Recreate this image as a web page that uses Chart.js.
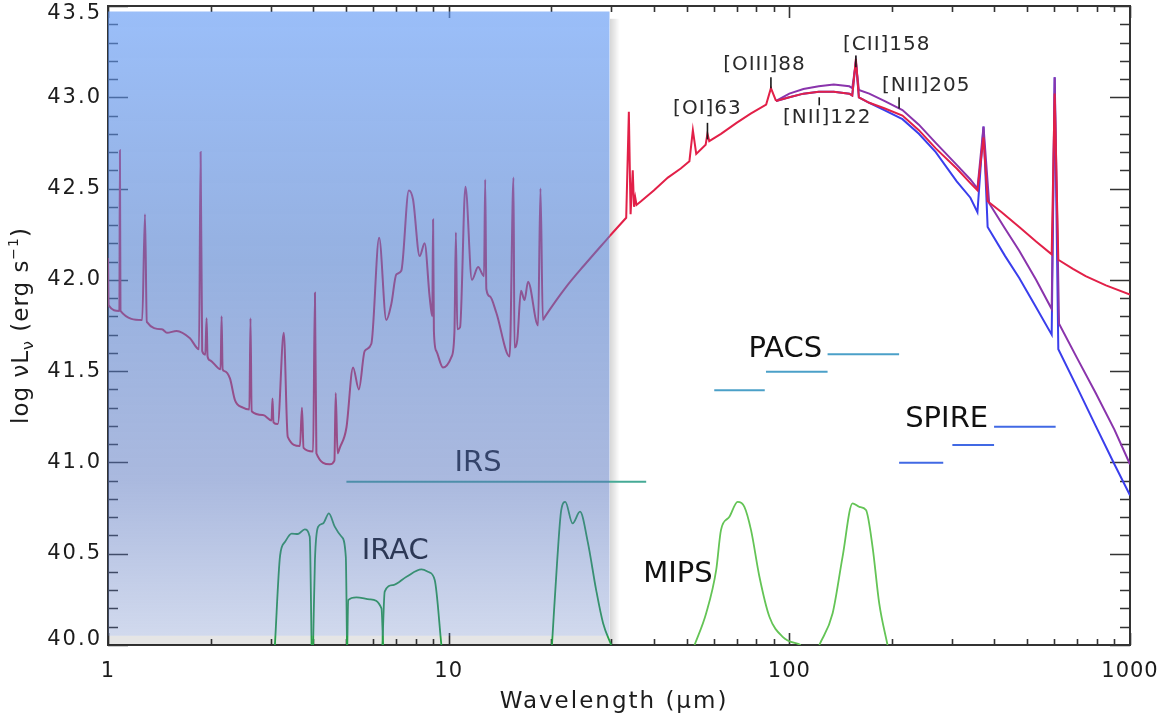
<!DOCTYPE html>
<html lang="en">
<head>
<meta charset="UTF-8" />
<title>Model SED with Spitzer and Herschel bands</title>
<style>
  body { margin: 0; background: #fff; }
  #wrap { width: 1160px; height: 719px; position: relative; }
</style>
</head>
<body>
<div id="wrap"><canvas id="sed"></canvas></div>

<script src="https://cdn.jsdelivr.net/npm/chart.js"></script>
<script>
// wavelength in micron, log nuL_nu in erg/s
// 1-30 micron part, common to the three models
const sedMidIR = [
  [1.00, 42.12], [1.004, 41.86], [1.08, 41.83], [1.084, 42.71], [1.088, 41.83],
  [1.26, 41.78], [1.284, 42.36], [1.30, 41.77],
  [1.44, 41.73], [1.49, 41.71], [1.59, 41.72], [1.74, 41.68],
  [1.85, 41.62], [1.87, 42.70], [1.89, 41.61],
  [1.93, 41.59], [1.947, 41.79], [1.96, 41.58], [1.99, 41.56],
  [2.14, 41.51], [2.155, 41.80], [2.17, 41.51], [2.20, 41.50],
  [2.28, 41.46], [2.36, 41.34], [2.49, 41.30],
  [2.60, 41.29], [2.62, 41.79], [2.64, 41.28], [2.85, 41.26],
  [3.02, 41.23], [3.04, 41.35], [3.06, 41.22],
  [3.15, 41.21], [3.28, 41.71], [3.37, 41.14],
  [3.66, 41.09], [3.71, 41.30], [3.75, 41.08],
  [4.00, 41.06], [4.05, 41.93], [4.09, 41.05],
  [4.48, 40.99], [4.62, 41.01], [4.66, 41.38], [4.72, 41.05],
  [4.79, 41.08], [5.01, 41.19], [5.24, 41.52], [5.45, 41.40], [5.67, 41.61], [5.93, 41.65],
  [6.25, 42.23], [6.56, 41.78], [6.79, 41.87], [7.02, 42.03], [7.26, 42.05],
  [7.64, 42.49], [7.86, 42.44], [8.22, 42.13], [8.50, 42.20], [8.79, 41.91],
  [8.95, 41.80], [9.00, 42.33], [9.05, 41.72], [9.20, 41.61], [9.62, 41.52],
  [10.2, 41.58], [10.4, 41.72], [10.5, 42.26], [10.6, 41.73], [10.8, 41.74],
  [11.2, 42.51], [11.7, 42.00], [12.2, 42.07], [12.7, 42.02], [12.8, 42.55], [12.9, 41.95],
  [13.2, 41.91], [13.8, 41.82], [15.1, 41.58], [15.5, 42.56], [15.6, 41.63], [15.9, 41.67],
  [16.3, 41.94], [16.7, 41.89], [17.1, 41.99], [18.3, 41.75], [18.6, 42.50], [18.9, 41.78],
  [19.2, 41.80], [22.1, 41.96], [25.0, 42.08], [29.7, 42.24]
];

// 30-90 micron rise with the fine-structure lines, also common
const sedRise = [
  [29.7, 42.24], [33.2, 42.34], [33.8, 42.92], [34.2, 42.36], [34.7, 42.60], [35.0, 42.40],
  [35.3, 42.45], [35.6, 42.41], [36.7, 42.43], [40.0, 42.49], [44.0, 42.56], [48.0, 42.61],
  [50.9, 42.65], [52.1, 42.82], [53.3, 42.69], [56.8, 42.74], [57.5, 42.80], [58.2, 42.76],
  [63.0, 42.80], [70.0, 42.86], [77.0, 42.91], [85.5, 42.96], [88.3, 43.05], [91.4, 42.98]
];

// far-IR tails of the three models
const redFar = [
  [91.4, 42.98], [100, 43.00], [110, 43.02], [122, 43.03], [135, 43.03], [150, 43.02],
  [153, 43.01], [156.8, 43.21], [160, 43.00], [171.6, 42.97], [190, 42.94], [214.8, 42.90],
  [240, 42.82], [269, 42.72], [310, 42.61], [340, 42.53], [356.6, 42.49], [371.5, 42.78],
  [382, 42.43], [420, 42.37], [473, 42.29], [530, 42.21], [589, 42.14], [601, 43.02],
  [616, 42.11], [680, 42.06], [741, 42.02], [850, 41.97], [1000, 41.92]
];
const purpleFar = [
  [91.4, 42.98], [100, 43.02], [110, 43.045], [122, 43.06], [135, 43.07], [150, 43.06],
  [153, 43.05], [156.8, 43.19], [160, 43.04], [171.6, 43.02], [190, 42.98], [214.8, 42.93],
  [240, 42.85], [269, 42.75], [310, 42.63], [340, 42.55], [356.6, 42.50], [371.5, 42.84],
  [386, 42.42], [430, 42.28], [473, 42.16], [530, 42.00], [589, 41.84], [601, 43.11],
  [619, 41.76], [700, 41.57], [793, 41.38], [900, 41.18], [1000, 40.99]
];
const blueFar = [
  [91.4, 42.98], [100, 43.00], [110, 43.02], [122, 43.03], [135, 43.03], [150, 43.02],
  [153, 43.01], [156.8, 43.20], [160, 43.00], [171.6, 42.97], [190, 42.93], [214.8, 42.88],
  [240, 42.80], [269, 42.70], [310, 42.54], [340, 42.45], [356.6, 42.37], [371.5, 42.84],
  [382, 42.29], [430, 42.13], [473, 42.01], [530, 41.85], [589, 41.70], [601, 43.11],
  [616, 41.62], [700, 41.41], [793, 41.20], [900, 40.99], [1000, 40.82]
];

// filter transmission curves, drawn on the luminosity axis
const irac1 = [[3.09, 40.0], [3.20, 40.49], [3.31, 40.565], [3.46, 40.61], [3.61, 40.608], [3.78, 40.633], [3.91, 40.593], [3.96, 40.0]];
const irac2 = [[4.00, 40.0], [4.05, 40.465], [4.14, 40.648], [4.28, 40.666], [4.45, 40.721], [4.63, 40.648], [4.85, 40.593], [4.99, 40.483], [5.03, 40.0]];
const irac3 = [[5.04, 40.0], [5.07, 40.246], [5.36, 40.261], [5.87, 40.25], [6.35, 40.201], [6.42, 40.0]];
const irac4 = [[6.39, 40.0], [6.49, 40.292], [6.87, 40.328], [7.52, 40.374], [8.32, 40.414], [8.70, 40.401], [9.10, 40.356], [9.52, 40.0]];
const mips24 = [[20.1, 40.0], [20.8, 40.447], [21.4, 40.739], [22.0, 40.784], [23.1, 40.666], [24.3, 40.73], [25.6, 40.565], [27.1, 40.301], [28.4, 40.119], [30.0, 40.0]];
const mips70 = [[52.7, 40.0], [57.0, 40.174], [61.0, 40.411], [63.0, 40.629], [66.7, 40.702], [70.5, 40.784], [73.8, 40.757], [77.2, 40.629], [81.7, 40.374], [87.4, 40.155], [95.6, 40.045], [108, 40.0]];
const mips160 = [[122.5, 40.0], [134, 40.174], [143.3, 40.483], [153.3, 40.776], [160.4, 40.757], [167.9, 40.739], [175.5, 40.538], [183.6, 40.228], [194.2, 40.0]];

// instrument coverage: [from, to, level]
const irsBand = [5.01, 38.0, 40.894];
const pacsBands = [[60.2, 84.7, 41.396], [85.4, 129.5, 41.496], [129.5, 210, 41.593]];
const spireBands = [[210, 283, 40.998], [301, 399, 41.095], [399, 605, 41.195]];

// shaded mid-IR box
const midIrBox = { from: 1.0, to: 29.7, top: 43.47, bottom: 40.05 };

// line markers: [wavelength, tick bottom, tick top]
const lineTicks = [[57.5, 42.77, 42.86], [88.3, 43.05, 43.11], [122.4, 42.956, 43.0], [156.8, 43.165, 43.229], [210, 42.938, 43.0]];
const lineNames = [['[OI]63', 57.5, 42.938], ['[OIII]88', 84.5, 43.179], ['[NII]122', 129.2, 42.885], ['[CII]158', 193.2, 43.29], ['[NII]205', 252.2, 43.065]];
const instrumentNames = [['IRS', 12.2, 40.993], ['IRAC', 6.97, 40.515], ['MIPS', 47.1, 40.389], ['PACS', 97.3, 41.62], ['SPIRE', 289.6, 41.237]];

const yTickLabels = ['40.0', '40.5', '41.0', '41.5', '42.0', '42.5', '43.0', '43.5'];
const xTickLabels = ['1', '10', '100', '1000'];

const toXY = pairs => pairs.map(([x, y]) => ({ x, y }));

function boxGradient(context) {
  const { ctx, chartArea, scales } = context.chart;
  if (!chartArea) return 'rgba(85,125,205,0.55)';
  const top = scales.y.getPixelForValue(midIrBox.top);
  const bottom = scales.y.getPixelForValue(midIrBox.bottom);
  const g = ctx.createLinearGradient(0, top, 0, bottom);
  g.addColorStop(0, 'rgba(95,152,245,0.63)');
  g.addColorStop(0.4, 'rgba(80,125,205,0.6)');
  g.addColorStop(0.75, 'rgba(85,115,190,0.5)');
  g.addColorStop(1, 'rgba(85,115,190,0.27)');
  return g;
}

function edgeShadow(context) {
  const { ctx, chartArea, scales } = context.chart;
  if (!chartArea) return 'rgba(0,0,0,0.1)';
  const x0 = scales.x.getPixelForValue(29.7);
  const x1 = scales.x.getPixelForValue(31.8);
  const g = ctx.createLinearGradient(x0, 0, x1, 0);
  g.addColorStop(0, 'rgba(0,0,0,0.16)');
  g.addColorStop(1, 'rgba(0,0,0,0)');
  return g;
}

const line = (data, color, width, order, extra) => Object.assign({
  data: toXY(data), showLine: true, borderColor: color, borderWidth: width,
  pointRadius: 0, fill: false, tension: 0, order
}, extra || {});

const smooth = { cubicInterpolationMode: 'monotone' };
const RED = 'rgb(226,32,72)';

const datasets = [
  // shaded box, drawn over everything else
  line([[midIrBox.from, midIrBox.top], [midIrBox.to, midIrBox.top]], 'transparent', 0, 0,
       { fill: { value: midIrBox.bottom }, backgroundColor: boxGradient }),
  line([[29.7, 43.43], [31.8, 43.43]], 'transparent', 0, 9,
       { fill: { value: 40.0 }, backgroundColor: edgeShadow }),
  line([[1.0, 40.05], [29.7, 40.05]], 'transparent', 0, 9,
       { fill: { value: 40.0 }, backgroundColor: 'rgba(0,0,0,0.1)' }),

  line(sedMidIR, RED, 2, 2, smooth),
  line(sedRise, RED, 2, 2),
  line(redFar, RED, 2, 2),
  line(purpleFar, 'rgb(138,52,172)', 2, 3),
  line(blueFar, 'rgb(58,62,236)', 2, 4),

  line([[irsBand[0], irsBand[2]], [irsBand[1], irsBand[2]]], 'rgb(70,170,150)', 2, 5)
];

lineTicks.forEach(([lam, lo, hi]) => datasets.push(line([[lam, lo], [lam, hi]], '#1a1a1a', 1.6, 1)));
pacsBands.forEach(([a, b, v]) => datasets.push(line([[a, v], [b, v]], 'rgb(75,160,200)', 2, 5)));
spireBands.forEach(([a, b, v]) => datasets.push(line([[a, v], [b, v]], 'rgb(65,105,228)', 2, 5)));
[irac1, irac2, irac3, irac4, mips24].forEach(f =>
  datasets.push(line(f, 'rgb(40,160,72)', 1.8, 6, smooth)));
[mips70, mips160].forEach(f =>
  datasets.push(line(f, 'rgb(100,196,86)', 1.8, 6, smooth)));

function drawRich(ctx, pieces) {
  // pieces: [text, px size, baseline shift]
  let total = 0;
  pieces.forEach(p => { ctx.font = p[1] + 'px "DejaVu Sans"'; p.w = ctx.measureText(p[0]).width; total += p.w; });
  let cx = -total / 2;
  pieces.forEach(p => {
    ctx.font = p[1] + 'px "DejaVu Sans"';
    ctx.fillText(p[0], cx, p[2]);
    cx += p.w;
  });
}

// box frame with inward ticks, labels and annotations
const boxAxes = {
  id: 'boxAxes',
  beforeDatasetsDraw(chart) {
    const { ctx, chartArea: a, scales: { x, y } } = chart;
    ctx.save();
    ctx.strokeStyle = '#333';
    ctx.lineWidth = 2;
    ctx.strokeRect(a.left, a.top, a.right - a.left, a.bottom - a.top);

    ctx.lineWidth = 1.6;
    ctx.beginPath();
    for (let i = 0; i <= 35; i++) {
      const py = Math.round(y.getPixelForValue(40 + i / 10)) + 0.5;
      const len = i % 5 === 0 ? 20 : 10;
      ctx.moveTo(a.left, py); ctx.lineTo(a.left + len, py);
      ctx.moveTo(a.right, py); ctx.lineTo(a.right - len, py);
    }
    for (let d = 1; d <= 1000; d *= 10) {
      for (let k = 1; k <= 9; k++) {
        if (d === 1000 && k > 1) break;
        const px = Math.round(x.getPixelForValue(k * d)) + 0.5;
        const len = k === 1 ? 12 : 6;
        ctx.moveTo(px, a.bottom); ctx.lineTo(px, a.bottom - len);
        ctx.moveTo(px, a.top); ctx.lineTo(px, a.top + len);
      }
    }
    ctx.stroke();

    ctx.fillStyle = '#1c1c1c';
    ctx.font = '21px "DejaVu Sans"';
    ctx.letterSpacing = '2px';
    ctx.textAlign = 'right';
    ctx.textBaseline = 'middle';
    yTickLabels.forEach(t => {
      const py = Math.min(Math.max(y.getPixelForValue(parseFloat(t)), a.top + 8), a.bottom - 5);
      ctx.fillText(t, a.left - 6, py);
    });
    ctx.letterSpacing = '1px';
    ctx.textAlign = 'center';
    xTickLabels.forEach(t => ctx.fillText(t, x.getPixelForValue(parseFloat(t)), a.bottom + 27));

    ctx.font = '23px "DejaVu Sans"';
    ctx.letterSpacing = '2px';
    ctx.textBaseline = 'alphabetic';
    ctx.fillText('Wavelength (\u03bcm)', 614, 708);

    ctx.save();
    ctx.letterSpacing = '1px';
    ctx.textAlign = 'left';
    ctx.translate(28, (a.top + a.bottom) / 2);
    ctx.rotate(-Math.PI / 2);
    drawRich(ctx, [['log \u03bdL', 23, 0], ['\u03bd', 16, 5], [' (erg s', 23, 0], ['\u22121', 14, -10], [')', 23, 0]]);
    ctx.restore();

    ctx.letterSpacing = '0px';
    ctx.textBaseline = 'middle';
    ctx.fillStyle = '#111';
    ctx.font = '29px "DejaVu Sans"';
    instrumentNames.forEach(([t, lam, v]) => ctx.fillText(t, x.getPixelForValue(lam), y.getPixelForValue(v)));

    ctx.fillStyle = '#2a2a2a';
    ctx.font = '20px "DejaVu Sans"';
    ctx.letterSpacing = '1px';
    lineNames.forEach(([t, lam, v]) => ctx.fillText(t, x.getPixelForValue(lam), y.getPixelForValue(v)));
    ctx.restore();
  }
};

new Chart(document.getElementById('sed'), {
  type: 'scatter',
  data: { datasets },
  options: {
    responsive: true,
    maintainAspectRatio: false,
    animation: false,
    events: [],
    layout: { padding: { left: 108, right: 30, top: 6, bottom: 74 } },
    plugins: { legend: { display: false }, tooltip: { enabled: false } },
    scales: {
      x: { type: 'logarithmic', min: 1, max: 1000, display: false },
      y: { type: 'linear', min: 40, max: 43.5, display: false }
    }
  },
  plugins: [boxAxes]
});
</script>
</body>
</html>
